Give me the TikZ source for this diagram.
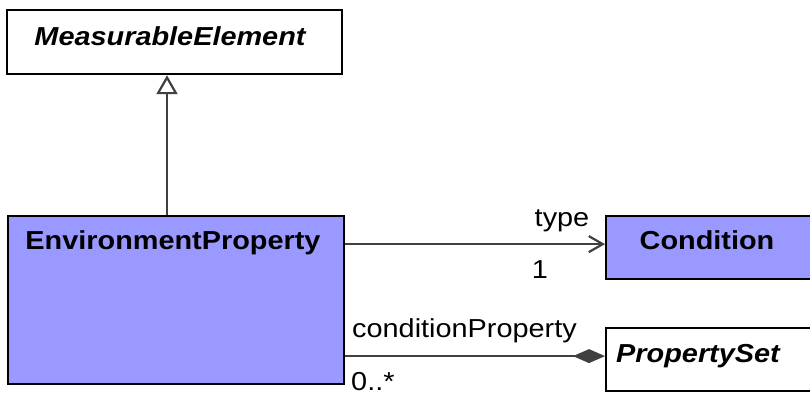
\documentclass[tikz,border=0pt]{standalone}
\usepackage{fontspec}
\setmainfont{Liberation Sans}[FakeStretch=1.11]
\usetikzlibrary{arrows.meta}
\definecolor{cls}{HTML}{9999FF}
\definecolor{conn}{HTML}{404040}
\begin{document}
\begin{tikzpicture}[x=1pt,y=-1pt,
  box/.style={draw=black,line width=2.2pt,anchor=north west,inner sep=0pt},
  ttl/.style={font=\fontsize{26}{31}\selectfont\bfseries,inner sep=0pt},
  lbl/.style={font=\fontsize{26}{31}\selectfont,inner sep=0pt},
  conn/.style={draw=conn,line width=2.2pt},
]
\useasboundingbox (0,0) rectangle (810,394);
% boxes
\node[box,fill=white,minimum width=335pt,minimum height=64pt] (me) at (6,9) {};
\node[box,fill=cls,minimum width=336pt,minimum height=168pt] (ep) at (7,215) {};
\node[box,fill=cls,minimum width=210pt,minimum height=63pt] (cond) at (605,215) {};
\node[box,fill=white,minimum width=210pt,minimum height=63pt] (ps) at (605,327) {};
% titles
\node[ttl,anchor=base] (meT) at (170,45) {\itshape MeasurableElement};
\node[ttl,anchor=base] (epT) at (173,249) {EnvironmentProperty};
\node[ttl,anchor=base] (condT) at (707,249) {Condition};
\node[ttl,anchor=base] (psT) at (698,362) {\itshape PropertySet};
% connectors
\draw[conn,-{Triangle[open,length=19pt,width=21pt,line width=2.2pt]}] (ep.north -| 167,0) -- (me.south -| 167,0);
\draw[conn,-{Straight Barb[length=14pt,width=16pt,line width=2.2pt]}] ([yshift=3.5pt]cond.west -| ep.east) -- ([yshift=3.5pt]cond.west);
\draw[conn,-{Diamond[length=32pt,width=14pt,fill=conn]}] ([yshift=3.5pt]ps.west -| ep.east) -- ([yshift=3.5pt]ps.west);
% labels
\node[lbl,anchor=base] (typeL) at (562,226) {type};
\node[lbl,anchor=base] (oneL) at (540,278) {1};
\node[lbl,anchor=base west] (cpL) at (352,337) {conditionProperty};
\node[lbl,anchor=base west] (mulL) at (351,390) {0..*};
\end{tikzpicture}
\end{document}
